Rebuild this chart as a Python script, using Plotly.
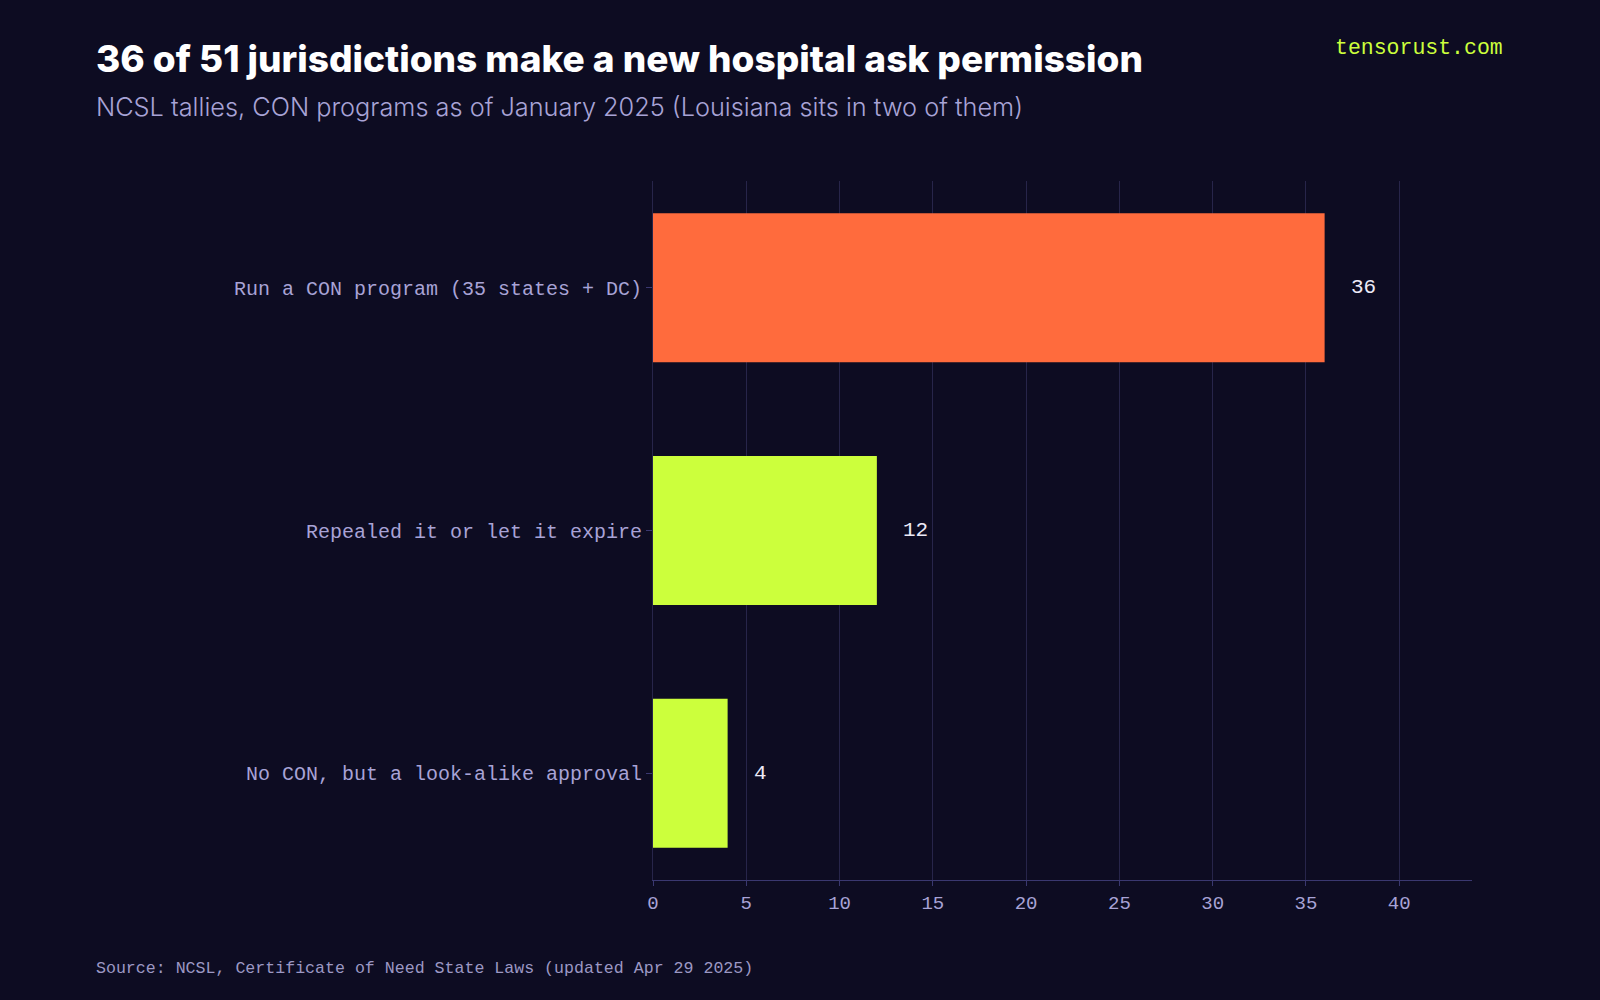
import plotly.graph_objects as go

categories = [
    "Run a CON program (35 states + DC)",
    "Repealed it or let it expire",
    "No CON, but a look-alike approval",
]
values = [36, 12, 4]
bar_colors = ["#FF6B3D", "#CCFF3C", "#CCFF3C"]
x_ticks = [0, 5, 10, 15, 20, 25, 30, 35, 40]

title = "36 of 51 jurisdictions make a new hospital ask permission"
subtitle = "NCSL tallies, CON programs as of January 2025 (Louisiana sits in two of them)"
source = "Source: NCSL, Certificate of Need State Laws (updated Apr 29 2025)"
brand = "tensorust.com"

W, H = 1600, 1000
L, R, T, B = 653, 128, 181, 120
BG = "#0D0C22"
MONO = "Liberation Mono, DejaVu Sans Mono, monospace"
SANS = "Inter, Roboto, sans-serif"


def px_x(px):
    return (px - L) / (W - L - R)


def px_y(py):
    return (H - B - py) / (H - T - B)


fig = go.Figure(
    go.Bar(
        x=values,
        y=categories,
        orientation="h",
        marker=dict(color=bar_colors, line=dict(width=0)),
        hoverinfo="skip",
    )
)

for c, v in zip(categories, values):
    fig.add_annotation(
        x=v, y=c, xref="x", yref="y", text=str(v), showarrow=False,
        xanchor="left", xshift=24,
        font=dict(family=MONO, size=21, color="#ECEAF7"),
    )

fig.add_annotation(
    x=px_x(94), y=px_y(58), xref="paper", yref="paper", text=title,
    showarrow=False, xanchor="left", yanchor="middle",
    font=dict(family=SANS, size=37, weight=800, color="#FFFFFF"),
)
fig.add_annotation(
    x=px_x(94), y=px_y(106), xref="paper", yref="paper", text=subtitle,
    showarrow=False, xanchor="left", yanchor="middle",
    font=dict(family=SANS, size=25.3, weight=300, color="#A8A3D6"),
)
fig.add_annotation(
    x=px_x(1505), y=px_y(48), xref="paper", yref="paper", text=brand,
    showarrow=False, xanchor="right", yanchor="middle",
    font=dict(family=MONO, size=21.5, color="#CCFF3C"),
)
fig.add_annotation(
    x=px_x(94), y=px_y(968), xref="paper", yref="paper", text=source,
    showarrow=False, xanchor="left", yanchor="middle",
    font=dict(family=MONO, size=16.6, color="#9C98C4"),
)

fig.update_layout(
    width=W, height=H,
    margin=dict(l=L, r=R, t=T, b=B),
    paper_bgcolor=BG, plot_bgcolor=BG,
    bargap=0.386,
    showlegend=False,
    xaxis=dict(
        range=[0, 43.9],
        tickvals=x_ticks,
        showgrid=True, gridcolor="#27254A", gridwidth=1,
        zeroline=False,
        showline=True, linecolor="#3A3870", linewidth=1,
        ticks="outside", ticklen=5, tickcolor="#3A3870",
        tickfont=dict(family=MONO, size=19, color="#A8A3D6"),
        fixedrange=True,
    ),
    yaxis=dict(
        categoryorder="array", categoryarray=categories,
        range=[2.44, -0.44],
        showgrid=False, zeroline=False,
        showline=True, linecolor="#27254A", linewidth=1,
        ticks="outside", ticklen=6, tickcolor="#3A3870",
        tickfont=dict(family=MONO, size=20, color="#A8A3D6"),
        fixedrange=True,
    ),
)

fig.write_html("out.html")
